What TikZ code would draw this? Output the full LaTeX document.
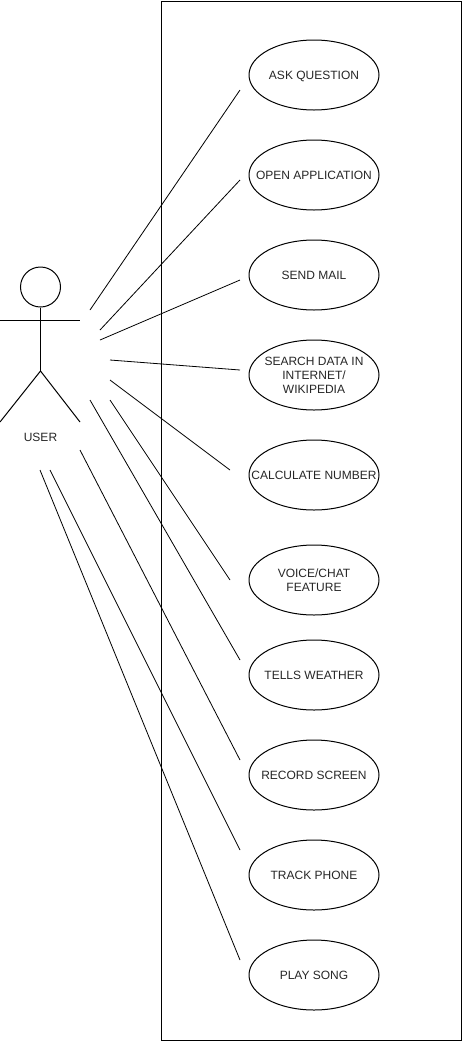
\documentclass[tikz,border=0pt]{standalone}
\usepackage{fontspec}
\setmainfont{Liberation Sans}
\usetikzlibrary{shapes.geometric}
\newcommand{\uctext}[1]{\makebox[0pt]{\smash{\raisebox{-4.5pt}{\begin{tabular}{@{}c@{}}#1\end{tabular}}}}}
\begin{document}
\begin{tikzpicture}[x=1pt,y=-1pt,line width=1pt,
  usecase/.style={draw,ellipse,minimum width=130pt,minimum height=70pt,inner sep=0pt,font=\fontsize{12pt}{14pt}\selectfont,text=black!85},
  link/.style={line width=0.8pt},
  actorline/.style={line width=1pt}]
\useasboundingbox (0,0) rectangle (462,1042);
\node[draw,minimum width=300pt,minimum height=1039pt,inner sep=0pt,anchor=north west] (sys) at (160.5,0.5) {};
% actor
\node[draw,circle,minimum size=40pt,inner sep=0pt] (head) at (40.5,287) {};
\coordinate (hip) at (40.5,371);
\coordinate (larm) at (0,320);
\coordinate (rarm) at (80,320);
\coordinate (lfoot) at (0,422);
\coordinate (rfoot) at (80,422);
\draw[actorline] (head.south) -- (hip);
\draw[actorline] (larm) -- (rarm);
\draw[actorline] (lfoot) -- (hip) -- (rfoot);
\node[font=\fontsize{12pt}{14pt}\selectfont,text=black!85] (user) at (40.5,437) {USER};
% use cases
\node[usecase] (u1) at (314,75) {\uctext{ASK QUESTION}};
\node[usecase] (u2) at (314,175) {\uctext{OPEN APPLICATION}};
\node[usecase] (u3) at (314,275) {\uctext{SEND MAIL}};
\node[usecase] (u4) at (314,375) {\uctext{SEARCH DATA IN\\INTERNET/\\WIKIPEDIA}};
\node[usecase] (u5) at (314,475) {\uctext{CALCULATE NUMBER}};
\node[usecase] (u6) at (314,580) {\uctext{VOICE/CHAT\\FEATURE}};
\node[usecase] (u7) at (314,675) {\uctext{TELLS WEATHER}};
\node[usecase] (u8) at (314,775) {\uctext{RECORD SCREEN}};
\node[usecase] (u9) at (314,875) {\uctext{TRACK PHONE}};
\node[usecase] (u10) at (314,975) {\uctext{PLAY SONG}};
% free line ends
\coordinate (s1) at (90,310);  \coordinate (e1) at (240,90);
\coordinate (s2) at (100,330); \coordinate (e2) at (240,180);
\coordinate (s3) at (100,340); \coordinate (e3) at (240,280);
\coordinate (s4) at (110,360); \coordinate (e4) at (240,370);
\coordinate (s5) at (110,380); \coordinate (e5) at (230,470);
\coordinate (s6) at (110,400); \coordinate (e6) at (230,580);
\coordinate (s7) at (90,400);  \coordinate (e7) at (240,660);
\coordinate (s8) at (80,450);  \coordinate (e8) at (240,760);
\coordinate (s9) at (50,470);  \coordinate (e9) at (240,850);
\coordinate (s10) at (40,470); \coordinate (e10) at (240,960);
\foreach \i in {1,...,10} {\draw[link] (s\i) -- (e\i);}
\end{tikzpicture}
\end{document}
